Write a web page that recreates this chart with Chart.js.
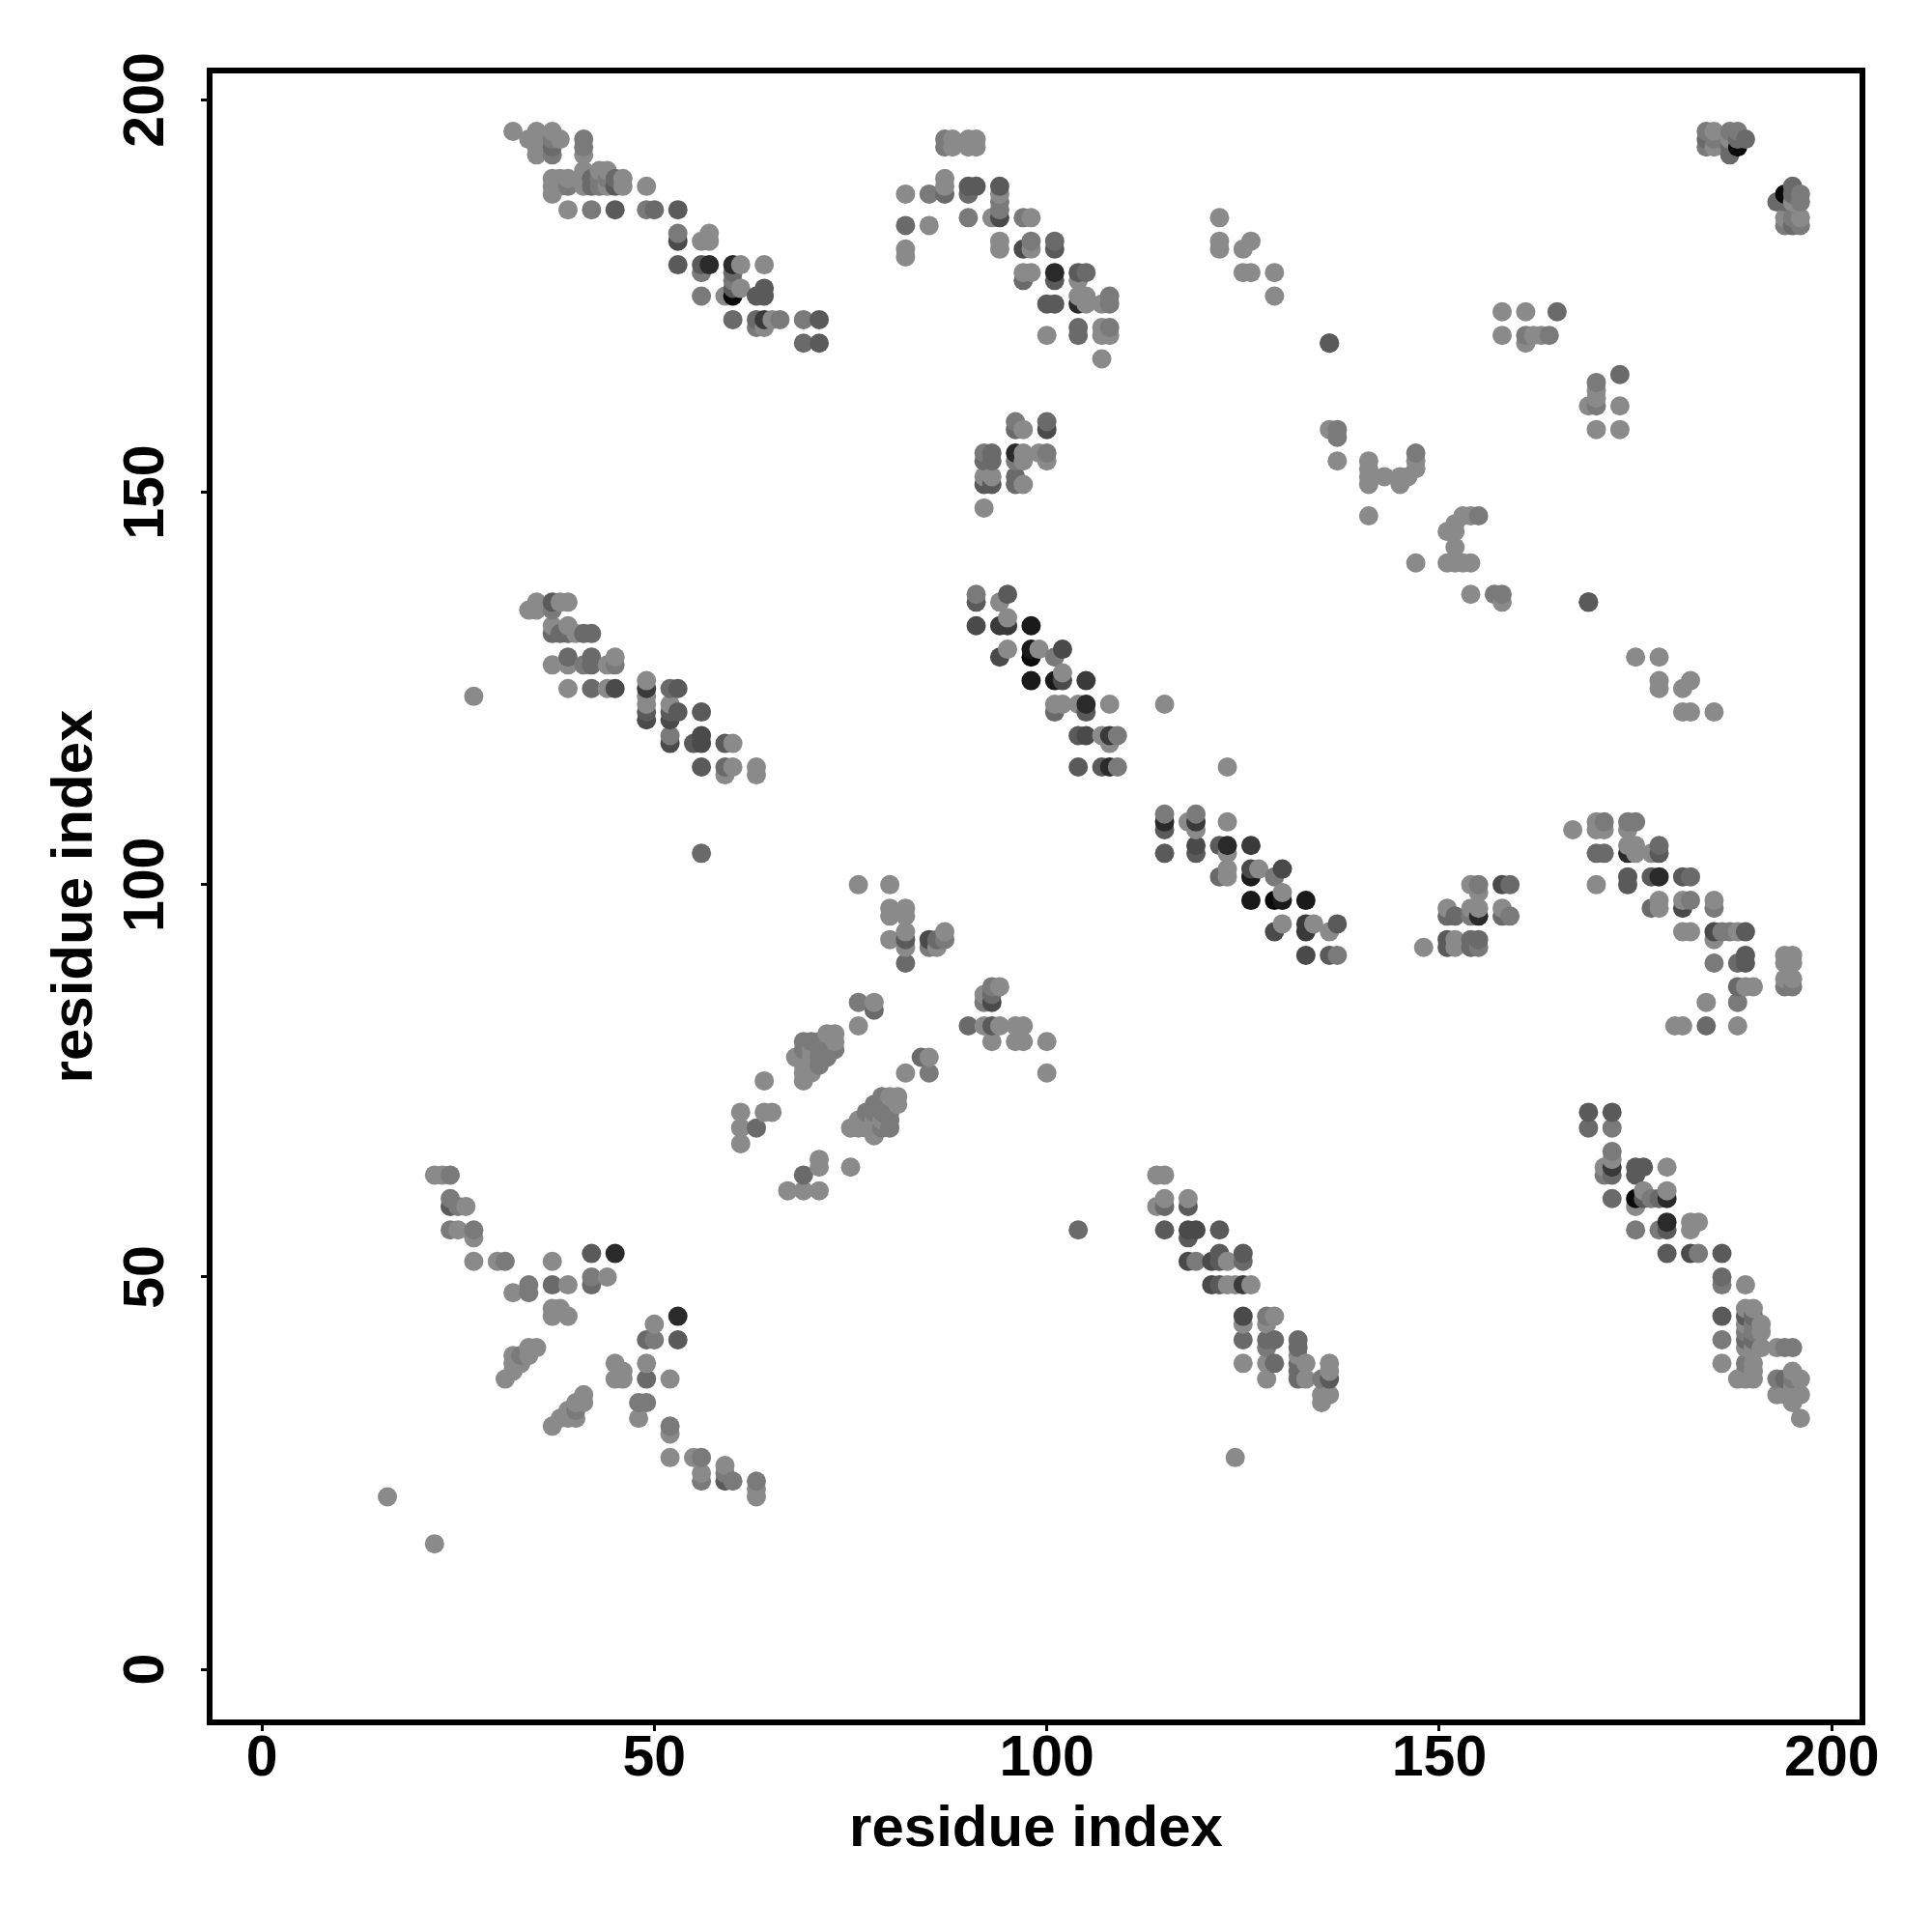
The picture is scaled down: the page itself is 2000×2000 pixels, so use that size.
<!DOCTYPE html>
<html>
<head>
<meta charset="utf-8">
<title>Residue contact map</title>
<script src="https://cdn.jsdelivr.net/npm/chart.js@4"></script>
<style>html,body{margin:0;padding:0;background:#fff}canvas{display:block}</style>
</head>
<body>
<canvas id="c" width="2000" height="2000"></canvas>
<script>
const tickValues = [0, 50, 100, 150, 200];
const axisTitle = "residue index";

// Contacts: residue i, residue j (i < j), darkness level.
const residueI = [
32,34,35,35,35,35,36,37,37,37,37,38,41,41,41,41,41,41,37,37,37,38,38,39,39,42,42,43,43,43,44,44,44,45,45,46,46,49,39,42,45,49,50,53,53,53,
56,57,57,53,56,56,57,60,60,61,64,56,59,60,60,60,61,63,64,64,60,63,63,64,64,65,66,69,71,69,71,
82,85,87,87,87,90,90,91,94,94,90,93,94,94,94,97,98,82,85,82,82,94,94,97,98,98,101,101,97,98,97,101,101,104,105,104,
100,101,104,104,105,105,107,108,108,100,104,104,107,107,108,108,107,87,87,88,88,90,90,91,91,
122,122,122,126,125,125,126,129,129,136,
96,96,97,100,100,92,93,92,93,96,96,97,97,99,100,100,92,93,92,93,96,96,97,92,
136,137,137,137,141,141,141,141,141,143,145,145,146,147,147,147,136,158,161,165,158,161,161,162,163,164,
34,35,35,37,37,38,39,37,37,38,39,39,40,41,42,37,39,39,41,42,42,44,45,45,39,42,44,45,49,49,49,49,49,49,52,53,52,52,52,53,56,52,52,55,56,56,59,60,56,59,60,59,63,63,27,56,
91,91,91,94,94,94,95,95,95,95,98,98,98,98,99,101,102,102,102,101,105,101,101,102,104,105,105,108,104,105,107,108,109,108,104,107,108,109,115,
72,73,69,70,71,72,73,69,70,71,72,73,68,69,70,71,72,69,70,71,69,70,69,64,64,65,61,61,61,63,
76,76,78,78,76,80,80,80,80,82,82,82,82,82,82,85,86,86,85,87,87,
22,23,24,24,24,25,26,24,25,27,27,27,30,31,37,42,45,32,34,34,37,39,42,42,44,37,37,38,39,31,32,32,32,33,33,34,34,35,16,
184,184,184,185,185,185,187,187,187,187,188,188,188,189
];
const residueJ = [
196,195,196,195,194,193,195,196,195,194,193,195,195,194,193,191,190,189,190,189,188,190,189,190,189,190,189,191,190,189,191,190,189,190,189,190,189,189,186,186,186,186,186,186,183,182,
182,183,182,179,179,178,179,179,178,179,179,175,175,175,176,177,176,175,175,176,172,172,171,172,171,172,172,172,172,169,169,
188,188,190,189,188,189,188,189,189,188,185,185,187,186,185,185,185,184,184,181,180,182,181,181,182,181,182,181,178,178,177,178,177,178,178,177,
174,174,174,175,175,174,174,175,174,170,171,170,171,170,171,170,167,195,194,195,194,195,194,195,194,
185,182,181,182,181,178,178,178,175,169,
159,158,158,159,158,155,155,154,154,155,154,155,154,155,155,154,152,152,151,151,152,151,151,148,
158,158,157,154,154,153,152,151,147,152,152,151,152,155,154,153,169,173,173,173,170,170,169,170,170,170,
135,136,135,136,135,136,136,133,132,132,133,132,132,132,132,128,129,128,128,129,128,128,129,128,125,125,125,125,126,125,124,123,122,121,125,125,123,122,121,122,122,119,118,118,119,118,118,118,115,115,115,114,115,114,124,104,
137,136,133,136,133,129,137,134,133,130,133,130,129,126,130,129,130,127,126,126,126,123,122,123,123,123,122,123,119,119,119,119,119,118,115,115,115,115,123,
81,81,80,80,80,80,80,79,79,79,79,79,78,78,78,78,78,77,77,77,76,76,75,75,71,71,71,69,67,69,
85,82,85,84,100,100,97,96,93,97,96,94,93,92,90,93,93,92,92,94,93,
63,63,63,60,59,59,59,56,56,56,55,52,52,52,52,53,53,48,49,48,49,49,50,49,50,46,45,46,45,37,38,40,39,39,40,40,41,41,22,
196,195,194,196,195,194,196,195,194,193,196,195,194,195
];
const darknessLevel = [
0,0,0,0,0,0,0,0,1,2,1,0,1,1,0,0,0,0,0,0,0,0,0,0,1,2,2,0,1,1,0,1,0,2,3,0,0,0,0,1,3,1,2,3,1,4,
0,0,0,3,3,1,6,6,2,0,0,1,0,8,3,1,0,3,3,3,2,2,1,5,0,0,1,1,3,2,3,
0,1,0,0,2,3,2,3,3,0,1,0,1,1,4,1,0,2,0,0,0,0,0,4,1,0,2,3,0,0,2,6,3,3,2,0,
3,3,6,0,0,0,0,1,1,0,2,2,0,0,1,0,0,1,1,0,0,0,0,0,0,
0,0,0,0,0,0,0,0,0,3,
1,2,0,2,4,1,2,2,2,6,1,0,0,0,1,0,0,0,3,3,2,2,0,0,
0,1,1,0,0,0,0,0,0,0,0,0,0,1,0,0,3,0,0,2,0,1,0,0,0,1,
0,0,0,3,1,0,0,0,2,2,0,2,0,2,2,0,2,0,1,2,2,0,0,1,0,2,0,4,0,5,0,0,3,4,2,3,0,3,4,3,3,1,4,3,4,4,3,0,3,2,0,0,0,0,0,2,
1,3,4,0,5,4,3,0,5,0,7,7,8,7,0,1,4,0,4,7,5,0,2,0,0,6,3,0,3,4,0,5,1,0,3,3,6,1,0,
0,0,1,1,1,1,0,1,0,1,1,1,0,0,0,1,1,0,0,1,0,0,0,0,0,0,0,0,0,2,
1,0,0,2,0,0,0,0,0,0,0,0,3,0,2,4,2,0,1,0,1,
0,0,1,1,3,1,0,1,0,1,0,0,0,1,0,3,6,0,1,1,2,0,1,2,0,0,0,0,0,0,0,0,0,0,1,0,0,0,0,
1,2,1,0,1,0,1,0,2,2,1,2,8,2
];

// The map is symmetric: every contact appears at (i, j) and at (j, i).
const contacts = [];
residueI.forEach((a, k) => {
  contacts.push({x: a, y: residueJ[k], level: darknessLevel[k]});
  contacts.push({x: residueJ[k], y: a, level: darknessLevel[k]});
});
contacts.sort((p, q) => p.x - q.x || p.y - q.y);
const shade = l => { const g = 138 - 16 * l; return `rgb(${g},${g},${g})`; };

const frame = {
  id: 'frame',
  afterDatasetsDraw(chart) {
    const a = chart.chartArea, ctx = chart.ctx;
    ctx.save();
    ctx.strokeStyle = '#000';
    ctx.lineWidth = 6;
    ctx.lineJoin = 'miter';
    ctx.strokeRect(a.left, a.top, a.right - a.left, a.bottom - a.top);
    ctx.restore();
  }
};
const fontFamily = '"Liberation Sans", Arial, sans-serif';
const useTicks = s => { s.ticks = tickValues.map(v => ({value: v})); };

new Chart(document.getElementById('c'), {
  type: 'scatter',
  data: {
    datasets: [{
      data: contacts.map(p => ({x: p.x, y: p.y})),
      showLine: false,
      pointRadius: 10,
      pointBorderWidth: 0,
      pointBackgroundColor: contacts.map(p => shade(p.level))
    }]
  },
  options: {
    responsive: false,
    animation: false,
    devicePixelRatio: 1,
    layout: {padding: {left: 0, top: 73, right: 72, bottom: 0}},
    plugins: {legend: {display: false}, tooltip: {enabled: false}},
    scales: {
      x: {
        type: 'linear', min: -6.65, max: 203.9,
        afterBuildTicks: useTicks,
        afterFit: s => { s.height = 217; },
        border: {display: false},
        grid: {drawOnChartArea: false, drawTicks: true, tickLength: 9, tickWidth: 3, color: '#000'},
        ticks: {color: '#000', padding: -6, maxRotation: 0, minRotation: 0, autoSkip: false,
                font: {family: fontFamily, weight: 'bold', size: 59}},
        title: {display: true, text: axisTitle, color: '#000', padding: {top: 0, bottom: 70},
                font: {family: fontFamily, weight: 'bold', size: 60}}
      },
      y: {
        type: 'linear', min: -6.75, max: 203.75,
        afterBuildTicks: useTicks,
        afterFit: s => { s.width = 217; },
        border: {display: false},
        grid: {drawOnChartArea: false, drawTicks: true, tickLength: 9, tickWidth: 3, color: '#000'},
        ticks: {color: '#000', padding: 6, minRotation: 90, maxRotation: 90, crossAlign: 'center', autoSkip: false,
                font: {family: fontFamily, weight: 'bold', size: 59}},
        title: {display: true, text: axisTitle, color: '#000', padding: {top: 42, bottom: 0},
                font: {family: fontFamily, weight: 'bold', size: 60}}
      }
    }
  },
  plugins: [frame]
});
</script>
</body>
</html>
